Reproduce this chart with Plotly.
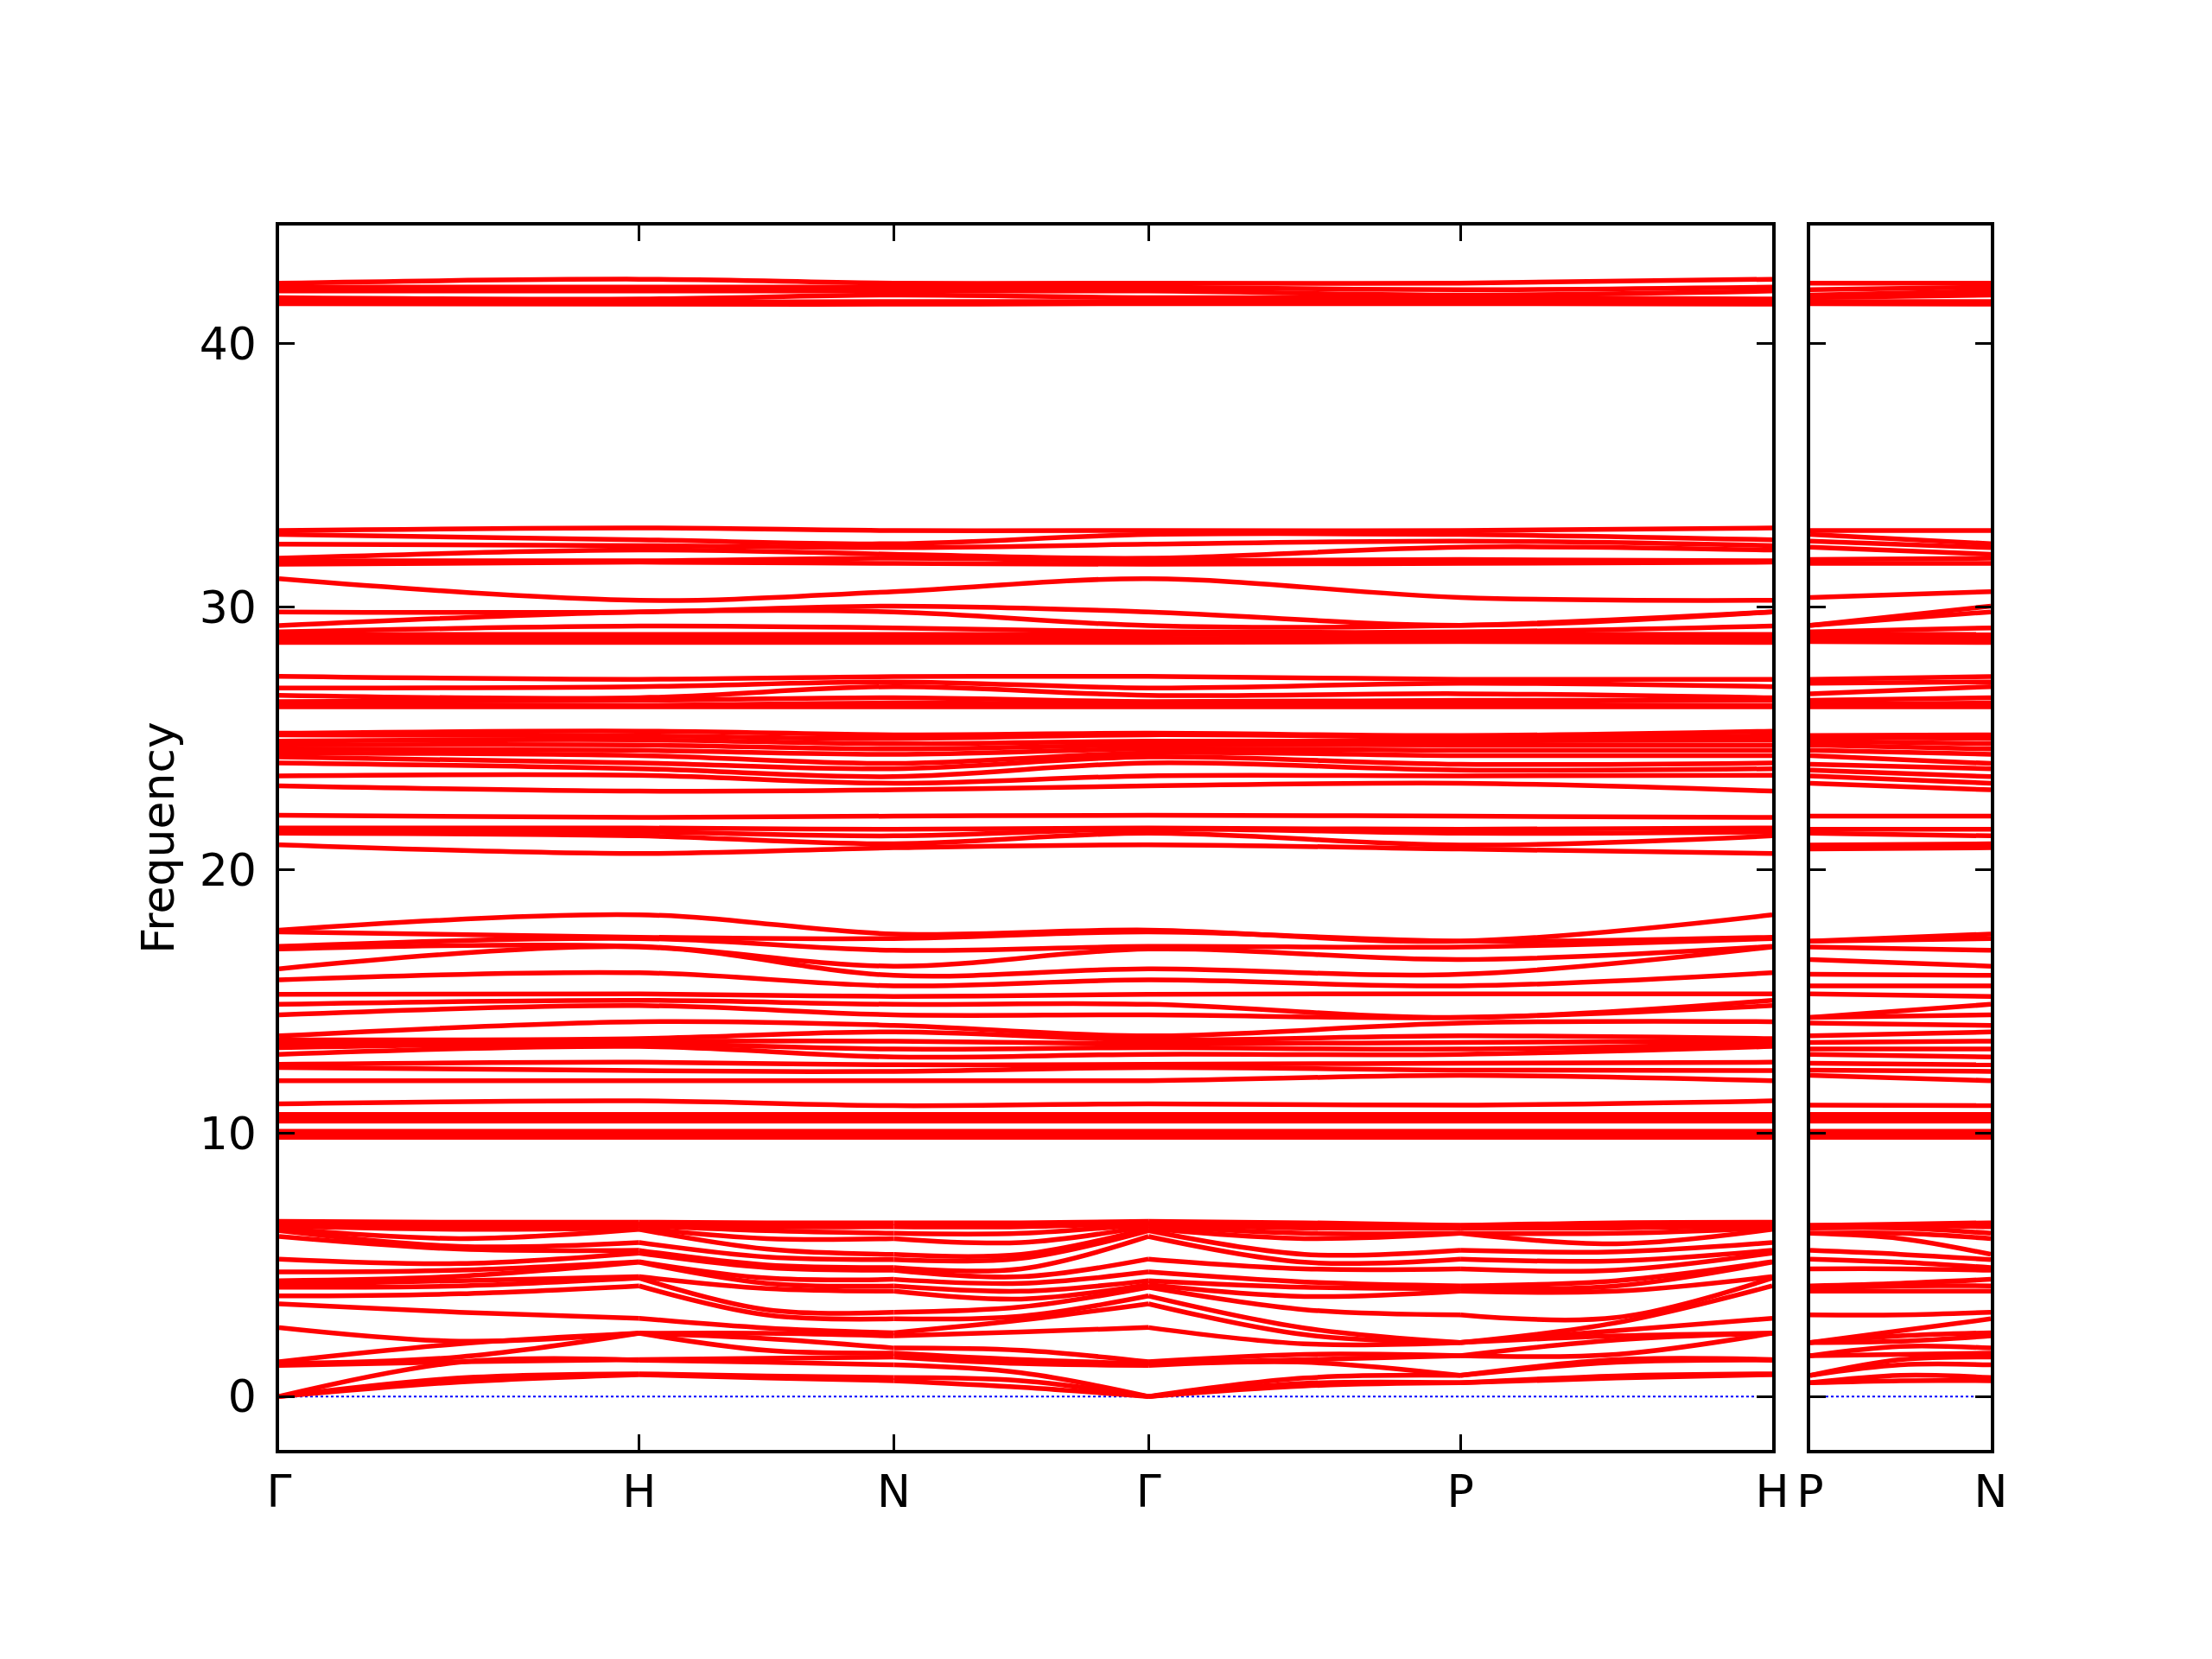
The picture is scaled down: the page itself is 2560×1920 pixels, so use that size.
import plotly.graph_objects as go

# High-symmetry path
k_main = [0.0, 1.0, 1.7071, 2.4142, 3.2802, 4.1463]
k_main_labels = ["Γ", "H", "N", "Γ", "P", "H"]
k_side = [0.0, 0.5]
k_side_labels = ["P", "N"]
y_ticks = [0, 10, 20, 30, 40]

# ---- Low-frequency bands (values at nodes and segment midpoints) ----
low_G = [0.0, 0.0, 0.0, 1.18, 1.25, 1.32, 2.62, 3.52, 3.82, 4.15, 4.25, 4.4, 4.73, 5.22, 6.08, 6.3, 6.38, 6.47, 6.55, 6.6, 6.65]
low_GH = [0.55, 0.7, 1.3, 1.32, 1.5, 2.0, 2.1, 3.2, 3.9, 4.2, 4.4, 4.57, 4.8, 5.05, 5.6, 5.7, 6.0, 6.35, 6.45, 6.55, 6.62]
low_H = [0.83, 0.86, 1.38, 1.40, 2.4, 2.4, 2.4, 2.97, 4.2, 4.5, 4.55, 5.1, 5.12, 5.45, 5.55, 5.85, 6.35, 6.4, 6.5, 6.55, 6.62]
low_HN = [0.7, 0.78, 1.3, 1.45, 1.75, 2.2, 2.4, 2.6, 3.1, 3.3, 4.1, 4.3, 4.5, 4.9, 5.0, 5.3, 5.6, 6.0, 6.3, 6.45, 6.6]
low_N = [0.6, 0.72, 1.2, 1.5, 1.65, 1.84, 2.3, 2.42, 2.95, 3.2, 4.0, 4.2, 4.45, 4.8, 4.9, 5.2, 5.4, 6.0, 6.2, 6.45, 6.6]
low_NG = [0.35, 0.6, 0.9, 1.25, 1.4, 1.75, 2.45, 2.9, 3.05, 3.4, 3.7, 4.0, 4.3, 4.55, 4.85, 5.25, 5.4, 5.85, 6.2, 6.45, 6.6]
low_GP = [0.4, 0.5, 0.7, 1.3, 1.4, 1.6, 2.0, 2.35, 2.6, 3.3, 3.8, 4.15, 4.35, 4.85, 5.1, 5.4, 6.0, 6.2, 6.4, 6.5, 6.6]
low_P = [0.52, 0.52, 0.8, 0.8, 1.55, 1.55, 2.05, 2.05, 2.05, 3.1, 4.0, 4.1, 4.2, 4.85, 5.22, 5.55, 6.2, 6.2, 6.4, 6.5, 6.5]
low_PH = [0.7, 0.78, 1.3, 1.4, 1.6, 2.15, 2.3, 2.5, 2.8, 3.0, 4.0, 4.2, 4.4, 4.8, 5.15, 5.5, 5.8, 6.2, 6.4, 6.5, 6.6]
low_PN = [0.6, 0.8, 1.2, 1.4, 1.6, 1.9, 2.1, 2.3, 2.5, 3.1, 4.0, 4.2, 4.3, 4.85, 5.1, 5.4, 6.0, 6.2, 6.4, 6.5, 6.55]

# ---- Higher band groups (values at Γ, H, N, P) ----
mid_G = [9.85, 9.93, 10.01, 10.08, 10.46, 10.54, 10.62, 10.72, 11.12, 12.0, 12.5, 12.62, 13.0, 13.25, 13.4, 13.55, 13.7, 14.5, 14.9, 15.28, 15.83, 16.25, 17.0, 17.1, 17.65, 17.72]
mid_H = [9.85, 9.93, 10.01, 10.08, 10.46, 10.54, 10.62, 10.72, 11.23, 12.0, 12.38, 12.7, 13.3, 13.4, 13.5, 13.6, 14.24, 14.85, 15.05, 15.3, 16.1, 17.08, 17.1, 17.4, 17.45, 18.3]
mid_N = [9.85, 9.93, 10.01, 10.08, 10.46, 10.54, 10.62, 10.72, 11.05, 12.0, 12.35, 12.6, 12.9, 13.2, 13.5, 13.85, 14.1, 14.5, 14.9, 15.2, 15.6, 16.0, 16.35, 16.95, 17.4, 17.57]
mid_P = [9.85, 9.93, 10.01, 10.08, 10.46, 10.54, 10.62, 10.72, 11.07, 12.2, 12.4, 12.66, 13.0, 13.2, 13.45, 13.7, 14.19, 14.4, 14.4, 15.3, 15.6, 16.04, 16.6, 17.08, 17.3, 17.3]

b21_G = [20.96, 21.4, 21.56, 21.6, 22.08]
b21_H = [20.63, 21.3, 21.45, 21.6, 22.0]
b21_N = [20.85, 21.0, 21.3, 21.55, 22.05]
b21_P = [20.8, 20.95, 21.4, 21.55, 22.05]

b24_G = [23.2, 23.58, 24.07, 24.3, 24.45, 24.6, 24.75, 24.9, 25.14, 25.2]
b24_H = [23.0, 23.6, 23.85, 24.07, 24.35, 24.55, 24.75, 24.95, 25.1, 25.28]
b24_N = [23.05, 23.3, 23.55, 23.85, 24.05, 24.4, 24.6, 24.8, 25.0, 25.14]
b24_P = [23.3, 23.58, 23.8, 24.02, 24.35, 24.55, 24.75, 24.9, 25.05, 25.11]

b27_G = [26.2, 26.3, 26.4, 26.64, 26.92, 27.36]
b27_H = [26.2, 26.25, 26.45, 26.55, 26.97, 27.25]
b27_N = [26.2, 26.35, 26.55, 26.97, 27.15, 27.35]
b27_P = [26.2, 26.3, 26.45, 26.7, 27.1, 27.25]

b29_G = [28.65, 28.8, 28.95, 29.05, 29.29, 29.81, 31.07]
b29_H = [28.65, 28.8, 28.95, 29.27, 29.81, 29.81, 30.25]
b29_N = [28.65, 28.8, 28.95, 29.2, 29.81, 30.03, 30.58]
b29_P = [28.68, 28.82, 28.97, 29.05, 29.3, 29.3, 30.36]

b32_G = [31.62, 31.75, 31.85, 32.38, 32.75, 32.9]
b32_H = [31.7, 31.75, 32.16, 32.33, 32.55, 33.0]
b32_N = [31.65, 31.85, 32.0, 32.25, 32.4, 32.9]
b32_P = [31.65, 31.8, 32.27, 32.5, 32.75, 32.9]

b42_G = [41.52, 41.6, 41.75, 42.0, 42.15, 42.3]
b42_H = [41.5, 41.58, 41.7, 42.0, 42.15, 42.45]
b42_N = [41.5, 41.6, 41.85, 42.0, 42.15, 42.3]
b42_P = [41.52, 41.6, 41.75, 41.85, 42.05, 42.3]

RED = "#ff0000"
LW = 5.5
SPL = dict(color=RED, width=LW, shape="spline", smoothing=1.0)

fig = go.Figure()

# zero-frequency reference line
fig.add_trace(go.Scatter(x=[k_main[0], k_main[-1]], y=[0, 0], mode="lines",
                         line=dict(color="blue", width=2, dash="dot"),
                         xaxis="x", yaxis="y", hoverinfo="skip", showlegend=False))
fig.add_trace(go.Scatter(x=[k_side[0], k_side[-1]], y=[0, 0], mode="lines",
                         line=dict(color="blue", width=2, dash="dot"),
                         xaxis="x2", yaxis="y2", hoverinfo="skip", showlegend=False))


def line(x, y, ax):
    fig.add_trace(go.Scatter(x=x, y=y, mode="lines", line=SPL,
                             xaxis="x" if ax == 1 else "x2",
                             yaxis="y" if ax == 1 else "y2",
                             hoverinfo="skip", showlegend=False))


# low bands: each path segment drawn separately (kinks allowed at special points)
seg_main = [(low_G, low_GH, low_H), (low_H, low_HN, low_N), (low_N, low_NG, low_G),
            (low_G, low_GP, low_P), (low_P, low_PH, low_H)]
for i in range(len(low_G)):
    for s, (a, m, b) in enumerate(seg_main):
        k0, k1 = k_main[s], k_main[s + 1]
        line([k0, 0.5 * (k0 + k1), k1], [a[i], m[i], b[i]], 1)
    line([k_side[0], 0.5 * (k_side[0] + k_side[1]), k_side[1]],
         [low_P[i], low_PN[i], low_N[i]], 2)

groups = [
    (mid_G, mid_H, mid_N, mid_P),
    (b21_G, b21_H, b21_N, b21_P),
    (b24_G, b24_H, b24_N, b24_P),
    (b27_G, b27_H, b27_N, b27_P),
    (b29_G, b29_H, b29_N, b29_P),
    (b32_G, b32_H, b32_N, b32_P),
    (b42_G, b42_H, b42_N, b42_P),
]
for G, H, N, P in groups:
    for i in range(len(G)):
        line(k_main, [G[i], H[i], N[i], G[i], P[i], H[i]], 1)
        line(k_side, [P[i], N[i]], 2)

FONT = dict(family="DejaVu Sans", size=52, color="black")
yr = [-2.03, 44.49]

common = dict(showgrid=False, zeroline=False, showline=True, linecolor="black",
              linewidth=3.5, mirror="ticks", ticks="inside", ticklen=18,
              tickwidth=3, tickcolor="black", tickfont=FONT, automargin=False)

fig.update_layout(
    width=2560, height=1920,
    margin=dict(l=315, r=264, t=253, b=250, pad=0),
    paper_bgcolor="white", plot_bgcolor="white",
    showlegend=False,
    xaxis=dict(domain=[0.0, 0.8723], range=[k_main[0], k_main[-1]],
               tickmode="array", tickvals=k_main, ticktext=k_main_labels,
               anchor="y", **common),
    yaxis=dict(domain=[0, 1], range=yr, tickmode="array", tickvals=y_ticks,
               anchor="x", ticklabelstandoff=12,
               title=dict(text="Frequency", font=FONT, standoff=13),
               **common),
    xaxis2=dict(domain=[0.8945, 1.0], range=[k_side[0], k_side[-1]],
                tickmode="array", tickvals=k_side, ticktext=k_side_labels,
                anchor="y2", **common),
    yaxis2=dict(domain=[0, 1], range=yr, tickmode="array", tickvals=y_ticks,
                showticklabels=False, anchor="x2", **common),
)

fig.write_html("out.html")
